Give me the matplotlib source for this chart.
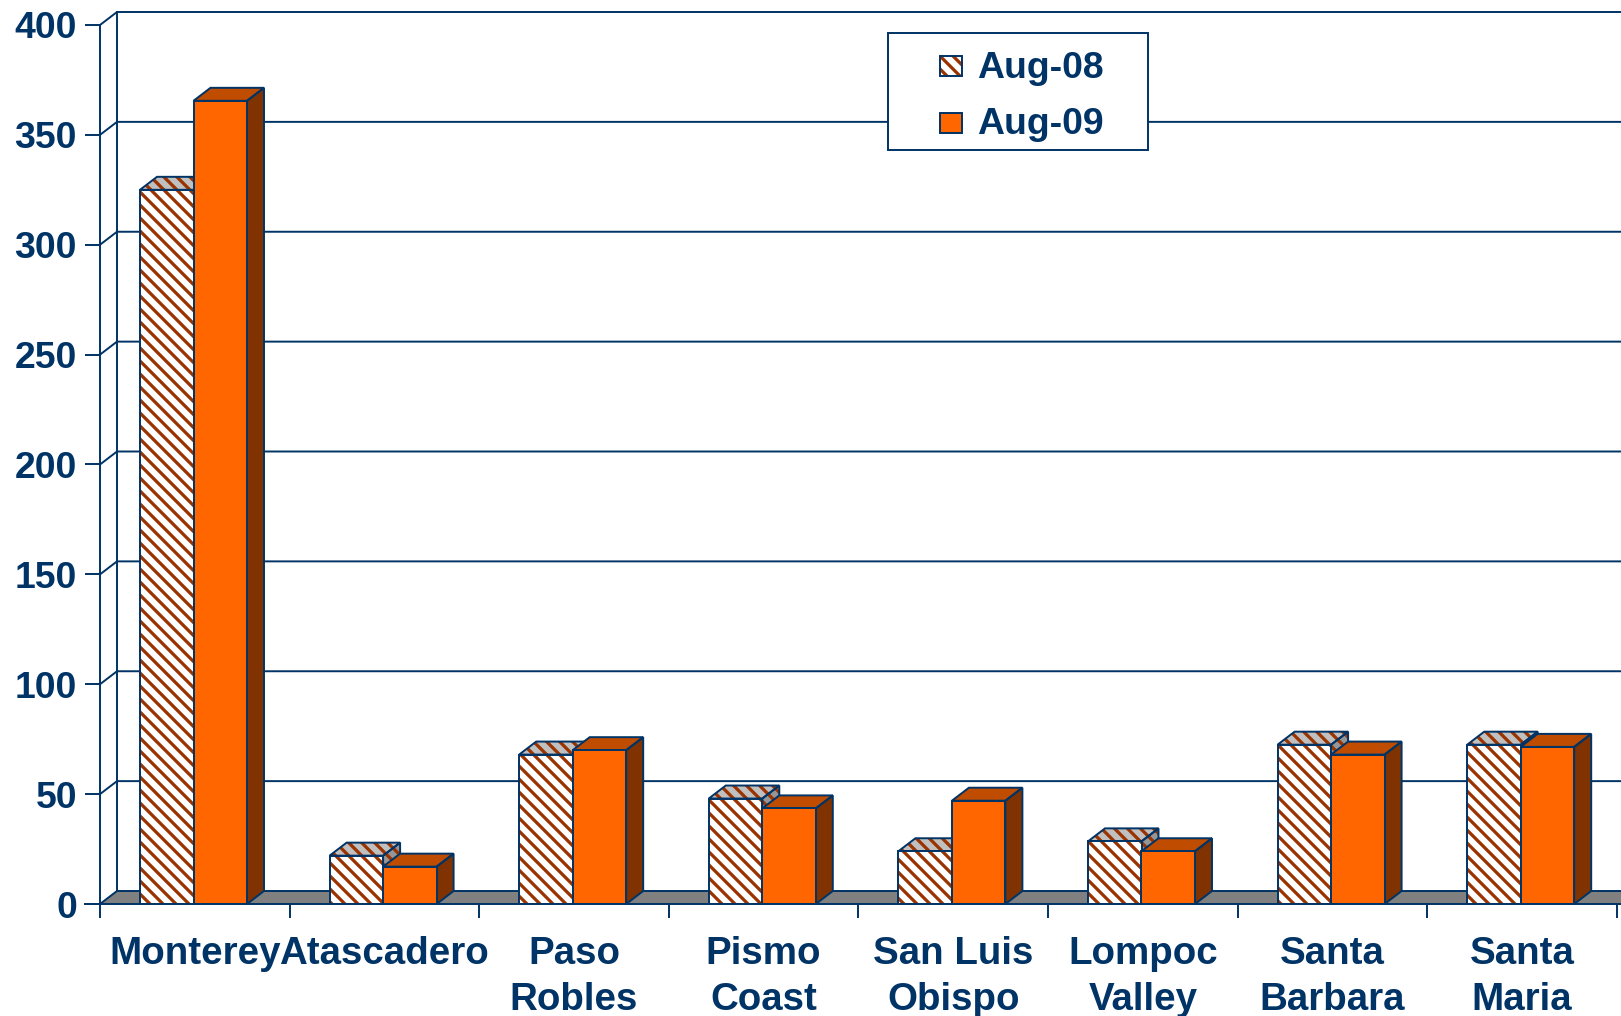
import matplotlib
matplotlib.use('Agg')
import matplotlib.pyplot as plt
from matplotlib.patches import Polygon, Rectangle
import numpy as np

categories = ['Monterey', 'Atascadero', 'Paso\nRobles', 'Pismo\nCoast',
              'San Luis\nObispo', 'Lompoc\nValley', 'Santa\nBarbara', 'Santa\nMaria']
aug08 = [325, 22, 68, 48, 24, 28.5, 72.5, 72.5]
aug09 = [365.5, 17, 70, 43.5, 47, 24, 68, 71.5]
series_names = ['Aug-08', 'Aug-09']
yticks = np.arange(0, 401, 50)

NAVY = '#003366'
BROWN = '#993300'
ORANGE = '#FF6600'
ORANGE_TOP = '#C04C00'
ORANGE_SIDE = '#803300'
GREY_TOP = '#C0C0C0'
GREY_SIDE = '#969696'
FLOOR = '#808080'
LW = 1.8
HATCH = '\\\\'

plt.rcParams['font.family'] = ['Liberation Sans', 'DejaVu Sans']
plt.rcParams['font.weight'] = 'bold'
plt.rcParams['hatch.linewidth'] = 3.0

W, H, DPI = 1621, 1016, 78
fig = plt.figure(figsize=(W / DPI, H / DPI), dpi=DPI)
ax = fig.add_axes([100 / W, 1 - 904 / H, 1516.8 / W, 879 / H])
ax.set_xlim(0, 8)
ax.set_ylim(0, 400)
for s in ax.spines.values():
    s.set_visible(False)

# pixel -> data conversion for the 3d depth offset
p0 = ax.transData.transform((0, 0))
p1 = ax.transData.transform((1, 1))
px_x, px_y = p1 - p0
ddx = 17 / px_x
ddy = 13 / px_y
x_right = (W - 100) / px_x + 0.2

# floor
ax.add_patch(Polygon([(0, 0), (ddx, ddy), (x_right, ddy), (x_right, 0)],
                     facecolor=FLOOR, edgecolor='none', zorder=1, clip_on=False))
ax.plot([ddx, x_right], [ddy, ddy], color=NAVY, lw=LW, zorder=1.5, clip_on=False)

# back wall grid
ax.plot([ddx, ddx], [ddy, 400 + ddy], color=NAVY, lw=LW, zorder=1.5, clip_on=False)
for v in yticks:
    xs = [0, ddx] if v == 0 else [0, ddx, x_right]
    ys = [v, v + ddy] if v == 0 else [v, v + ddy, v + ddy]
    ax.plot(xs, ys, color=NAVY, lw=LW, zorder=1.5, clip_on=False)

# front axes lines
ax.plot([0, 0], [0, 400], color=NAVY, lw=LW, zorder=8, clip_on=False)
ax.plot([-15 / px_x, x_right], [0, 0], color=NAVY, lw=LW, zorder=8, clip_on=False)

bw = 53.5 / px_x
x08 = np.arange(len(categories)) + 40 / px_x
x09 = x08 + bw


def face(pts, color, hatch, z):
    if hatch:
        ax.add_patch(Polygon(pts, facecolor=color, edgecolor=BROWN, hatch=HATCH,
                             lw=0, zorder=z, clip_on=False))
    else:
        ax.add_patch(Polygon(pts, facecolor=color, edgecolor='none',
                             zorder=z, clip_on=False))
    ax.add_patch(Polygon(pts, fill=False, edgecolor=NAVY, lw=LW,
                         joinstyle='miter', zorder=z + 0.1, clip_on=False))


def depth_faces(xs, hs, top, side, hatch, z):
    for x0, h in zip(xs, hs):
        x1 = x0 + bw
        face([(x1, 0), (x1 + ddx, ddy), (x1 + ddx, h + ddy), (x1, h)], side, hatch, z)
        face([(x0, h), (x1, h), (x1 + ddx, h + ddy), (x0 + ddx, h + ddy)], top, hatch, z)


# Aug-08: hatched boxes
depth_faces(x08, aug08, GREY_TOP, GREY_SIDE, True, 3)
ax.bar(x08, aug08, width=bw, align='edge', facecolor='white', edgecolor=BROWN,
       hatch=HATCH, lw=0, zorder=4)
ax.bar(x08, aug08, width=bw, align='edge', fill=False, edgecolor=NAVY, lw=LW, zorder=4.1)

# Aug-09: solid orange boxes
depth_faces(x09, aug09, ORANGE_TOP, ORANGE_SIDE, False, 5)
ax.bar(x09, aug09, width=bw, align='edge', facecolor=ORANGE, edgecolor=NAVY, lw=LW, zorder=6)

# ticks and labels
tick_len = 15 * 72 / DPI
ax.set_yticks(yticks)
ax.set_yticklabels([str(v) for v in yticks])
ax.tick_params(axis='y', length=tick_len, width=LW, color=NAVY, labelcolor=NAVY,
               labelsize=34.5, pad=7.4)
ax.set_xticks(np.arange(len(categories) + 1))
ax.set_xticklabels([])
ax.tick_params(axis='x', which='major', length=14 * 72 / DPI, width=LW, color=NAVY)
ax.set_xticks(np.arange(len(categories)) + 0.5, minor=True)
ax.set_xticklabels(categories, minor=True, fontsize=35.5, color=NAVY, linespacing=1.35)
ax.tick_params(axis='x', which='minor', length=0, pad=29.5)

# legend box
fig.add_artist(Rectangle((888 / W, 1 - 150 / H), 260 / W, 117 / H,
                         transform=fig.transFigure, facecolor='white',
                         edgecolor=NAVY, lw=LW, zorder=10))
fig.add_artist(Rectangle((940 / W, 1 - 76 / H), 22 / W, 20 / H,
                         transform=fig.transFigure, facecolor='white',
                         edgecolor=BROWN, hatch=HATCH, lw=0, zorder=11))
fig.add_artist(Rectangle((940 / W, 1 - 76 / H), 22 / W, 20 / H,
                         transform=fig.transFigure, fill=False,
                         edgecolor=NAVY, lw=LW, zorder=11.1))
fig.add_artist(Rectangle((940 / W, 1 - 133 / H), 22 / W, 20 / H,
                         transform=fig.transFigure, facecolor=ORANGE,
                         edgecolor=NAVY, lw=LW, zorder=11))
fig.text(977 / W, 1 - 78 / H, series_names[0], fontsize=34.5, color=NAVY,
         va='baseline', ha='left', zorder=12)
fig.text(977 / W, 1 - 134 / H, series_names[1], fontsize=34.5, color=NAVY,
         va='baseline', ha='left', zorder=12)

fig.savefig('out.png', dpi=DPI, facecolor='white')
